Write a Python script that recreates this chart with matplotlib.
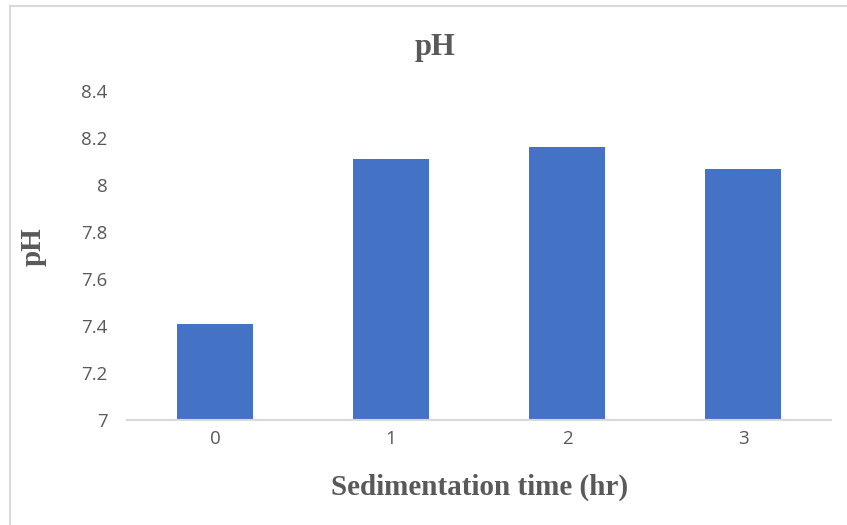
import matplotlib as mpl
mpl.use('Agg')
from matplotlib import pyplot as plt
from matplotlib.patches import Rectangle

### data
times = ['0', '1', '2', '3']
ph_vals = [7.41, 8.11, 8.16, 8.07]
yticks = [7, 7.2, 7.4, 7.6, 7.8, 8, 8.2, 8.4]
ytick_labels = ['7', '7.2', '7.4', '7.6', '7.8', '8', '8.2', '8.4']

txt_col = '#595959'
serif = 'Liberation Serif'
sans = 'Open Sans'

fig = plt.figure(figsize=(8.47, 5.25), dpi=100)
ax = fig.add_axes([127/847, 105/525, 704/847, 329/525])

## light chart border (only left/top visible in the crop)
fig.patches.append(Rectangle((10/847, -0.1), 1.2, (519 + 52.5) / 525,
                             transform=fig.transFigure, fill=False,
                             edgecolor='#d9d9d9', linewidth=1.5))

x = range(len(times))
ax.bar(x, [v - 7 for v in ph_vals], bottom=7, width=0.43, color='#4472C4')

ax.set_xlim(-0.5, len(times) - 0.5)
ax.set_ylim(7, 8.4)
ax.set_xticks(list(x))
ax.set_xticklabels(times, fontfamily=sans, fontsize=13.5, color=txt_col)
ax.set_yticks(yticks)
ax.set_yticklabels(ytick_labels, fontfamily=sans, fontsize=13.5, color=txt_col)
ax.tick_params(length=0)
ax.tick_params(axis='x', pad=7)
ax.tick_params(axis='y', pad=14)

for s in ['top', 'right', 'left']:
	ax.spines[s].set_visible(False)
ax.spines['bottom'].set_color('#d9d9d9')
ax.spines['bottom'].set_linewidth(1.5)

fig.text(435/847, 1 - 47/525, 'pH', ha='center', va='center',
	fontfamily=serif, fontweight='bold', fontsize=22, color=txt_col)
fig.text(480/847, 1 - 487/525, 'Sedimentation time (hr)', ha='center', va='center',
	fontfamily=serif, fontweight='bold', fontsize=21, color=txt_col)
fig.text(33/847, 1 - 247/525, 'pH', ha='center', va='center', rotation=90,
	fontfamily=serif, fontweight='bold', fontsize=21, color=txt_col)

fig.savefig('out.png', dpi=100)
plt.close()
